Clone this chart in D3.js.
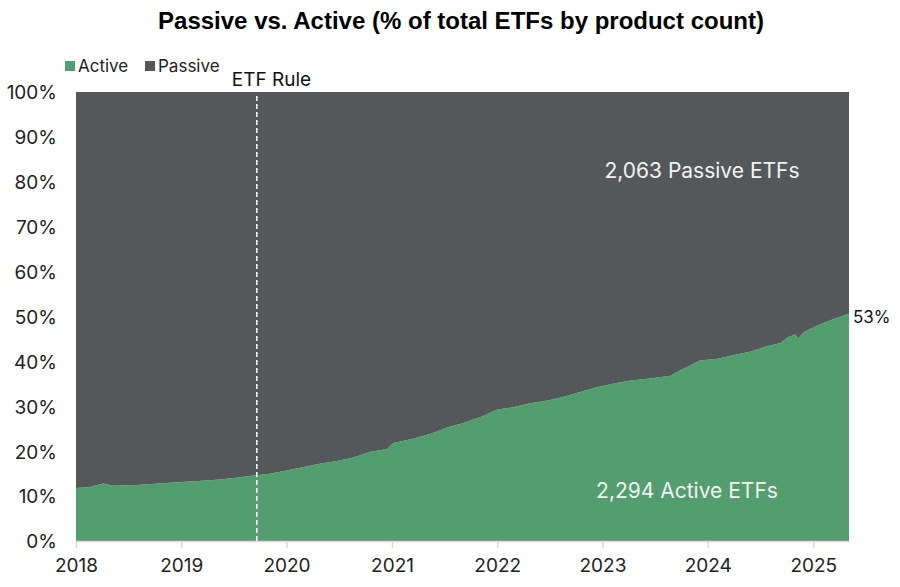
<!DOCTYPE html>
<html>
<head>
<meta charset="utf-8">
<script src="https://cdn.jsdelivr.net/npm/d3@7"></script>
<style>
  body { margin: 0; background: #fff; }
  text { font-family: Inter, "Noto Sans", sans-serif; }
</style>
</head>
<body>
<div id="chart"></div>
<script>
var svgWidth = 900;
var svgHeight = 587;

var margin = { top: 92, right: 51, bottom: 46, left: 76 };
var width = svgWidth - margin.left - margin.right;
var height = svgHeight - margin.top - margin.bottom;

// dates, active share in %
var dates = [
  "2018-01-01", "2018-02-20", "2018-04-05", "2018-05-10", "2018-08-01",
  "2018-11-20", "2019-03-15", "2019-05-15", "2019-07-10", "2019-09-10",
  "2019-11-05", "2020-01-01", "2020-03-01", "2020-04-25", "2020-06-25",
  "2020-08-20", "2020-10-15", "2020-12-15", "2021-01-05", "2021-03-15",
  "2021-05-15", "2021-07-12", "2021-09-05", "2021-11-05", "2022-01-01",
  "2022-02-25", "2022-04-25", "2022-06-25", "2022-08-20", "2022-10-15",
  "2022-12-15", "2023-02-05", "2023-04-15", "2023-06-15", "2023-08-25",
  "2023-09-25", "2023-11-01", "2023-12-05", "2024-02-05", "2024-04-01",
  "2024-05-30", "2024-07-25", "2024-09-10", "2024-10-05", "2024-10-30",
  "2024-11-10", "2024-11-28", "2025-01-15", "2025-03-15", "2025-05-05"
];
var activeShare = [
  11.8, 12.0, 12.8, 12.3, 12.5,
  13.0, 13.4, 13.7, 14.1, 14.6,
  15.0, 15.7, 16.5, 17.2, 17.8,
  18.6, 19.8, 20.5, 21.8, 22.8,
  23.9, 25.3, 26.3, 27.6, 29.3,
  29.8, 30.7, 31.3, 32.1, 33.2,
  34.3, 35.0, 35.8, 36.2, 36.8,
  37.9, 39.1, 40.2, 40.6, 41.4,
  42.2, 43.4, 44.1, 45.4, 46.0,
  45.1, 46.5, 48.0, 49.5, 50.6
];
var seriesNames = ["Active", "Passive"];
var seriesColors = ["#549d6f", "#55585b"];
var yTicks = [0, 10, 20, 30, 40, 50, 60, 70, 80, 90, 100];
var xTickYears = [2018, 2019, 2020, 2021, 2022, 2023, 2024, 2025];
var ruleDate = "2019-09-20";
var endLabel = "53%";
var activeCount = "2,294 Active ETFs";
var passiveCount = "2,063 Passive ETFs";

var parseDate = d3.timeParse("%Y-%m-%d");
var rows = dates.map(function (d, i) {
  return { date: parseDate(d), Active: activeShare[i], Passive: 100 - activeShare[i] };
});

var svg = d3.select("#chart")
  .append("svg")
  .attr("width", svgWidth)
  .attr("height", svgHeight);

// title
svg.append("text")
  .attr("x", 461)
  .attr("y", 29)
  .attr("text-anchor", "middle")
  .style("font-family", "'Liberation Sans', Arial, sans-serif")
  .style("font-weight", "bold")
  .style("font-size", "24px")
  .attr("fill", "#000")
  .text("Passive vs. Active (% of total ETFs by product count)");

var chartGroup = svg.append("g")
  .attr("transform", `translate(${margin.left}, ${margin.top})`);

var xScale = d3.scaleTime()
  .domain([parseDate("2018-01-01"), parseDate("2025-05-05")])
  .range([0, width]);

var yScale = d3.scaleLinear()
  .domain([0, 100])
  .range([height, 0]);

var stacked = d3.stack().keys(seriesNames)(rows);

var area = d3.area()
  .x(d => xScale(d.data.date))
  .y0(d => yScale(d[0]))
  .y1(d => yScale(d[1]));

chartGroup.selectAll(".layer")
  .data(stacked)
  .enter()
  .append("path")
  .attr("class", "layer")
  .attr("d", area)
  .attr("fill", (d, i) => seriesColors[i]);

// y axis (labels only)
var leftAxis = d3.axisLeft(yScale)
  .tickValues(yTicks)
  .tickFormat(d => d + "%")
  .tickSize(0)
  .tickPadding(19);

var yAxis = chartGroup.append("g").call(leftAxis);
yAxis.select(".domain").remove();
yAxis.selectAll("text")
  .style("font-size", "19px")
  .attr("fill", "#222")
  .attr("dy", "0.36em");

// x axis
var bottomAxis = d3.axisBottom(xScale)
  .tickValues(xTickYears.map(y => new Date(y, 0, 1)))
  .tickFormat(d3.timeFormat("%Y"))
  .tickSizeInner(7)
  .tickSizeOuter(0)
  .tickPadding(11);

var xAxis = chartGroup.append("g")
  .attr("transform", `translate(0, ${height})`)
  .call(bottomAxis);
xAxis.select(".domain").attr("stroke", "#d9d9d9").attr("stroke-width", 1.5);
xAxis.selectAll(".tick line").attr("stroke", "#d9d9d9").attr("stroke-width", 1.5);
xAxis.selectAll("text")
  .style("font-size", "19px")
  .attr("fill", "#222");

// ETF rule marker
var ruleX = xScale(parseDate(ruleDate));
chartGroup.append("line")
  .attr("x1", ruleX)
  .attr("x2", ruleX)
  .attr("y1", 4)
  .attr("y2", height)
  .attr("stroke", "#fff")
  .attr("stroke-width", 1.6)
  .attr("stroke-dasharray", "5,3");

chartGroup.append("text")
  .attr("x", ruleX - 25)
  .attr("y", -6)
  .style("font-size", "19px")
  .attr("fill", "#111")
  .text("ETF Rule");

// in-area labels
chartGroup.append("text")
  .attr("x", 626)
  .attr("y", 86)
  .attr("text-anchor", "middle")
  .style("font-size", "21px")
  .attr("fill", "#f2f2f2")
  .text(passiveCount);

chartGroup.append("text")
  .attr("x", 611)
  .attr("y", 406)
  .attr("text-anchor", "middle")
  .style("font-size", "21px")
  .attr("fill", "#f2f2f2")
  .text(activeCount);

// end label
var last = rows[rows.length - 1];
chartGroup.append("text")
  .attr("x", xScale(last.date) + 4)
  .attr("y", yScale(last.Active) + 9)
  .style("font-size", "17px")
  .attr("fill", "#111")
  .text(endLabel);

// legend
var legend = svg.append("g")
  .attr("transform", "translate(65, 61)");

var legendItems = legend.selectAll("g")
  .data(seriesNames)
  .enter()
  .append("g")
  .attr("transform", (d, i) => `translate(${i * 80}, 0)`);

legendItems.append("rect")
  .attr("width", 10)
  .attr("height", 10)
  .attr("fill", (d, i) => seriesColors[i]);

legendItems.append("text")
  .attr("x", 13)
  .attr("y", 11)
  .style("font-size", "17px")
  .attr("fill", "#222")
  .text(d => d);
</script>
</body>
</html>
